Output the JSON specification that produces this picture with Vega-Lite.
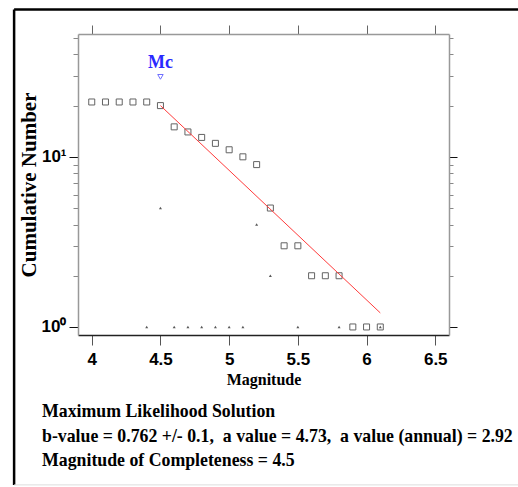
{
  "$schema": "https://vega.github.io/schema/vega-lite/v6.json",
  "width": 371,
  "height": 301,
  "autosize": "none",
  "padding": {"left": 78, "top": 34, "right": 69, "bottom": 152},
  "background": "white",
  "config": {"view": {"stroke": null}},
  "title": {
    "text": ["Maximum Likelihood Solution", "b-value = 0.762 +/- 0.1,\u00a0 a value = 4.73,\u00a0 a value (annual) = 2.92", "Magnitude of Completeness = 4.5"],
    "orient": "bottom",
    "anchor": "start",
    "frame": "group",
    "dx": -36,
    "offset": -83,
    "font": "Liberation Serif",
    "fontSize": 17.8,
    "fontWeight": "bold",
    "color": "black",
    "lineHeight": 24.5,
    "baseline": "top"
  },
  "datasets": {
    "cum": [
      {"m": 4.0, "n": 21}, {"m": 4.1, "n": 21}, {"m": 4.2, "n": 21}, {"m": 4.3, "n": 21}, {"m": 4.4, "n": 21},
      {"m": 4.5, "n": 20}, {"m": 4.6, "n": 15}, {"m": 4.7, "n": 14}, {"m": 4.8, "n": 13}, {"m": 4.9, "n": 12},
      {"m": 5.0, "n": 11}, {"m": 5.1, "n": 10}, {"m": 5.2, "n": 9}, {"m": 5.3, "n": 5}, {"m": 5.4, "n": 3},
      {"m": 5.5, "n": 3}, {"m": 5.6, "n": 2}, {"m": 5.7, "n": 2}, {"m": 5.8, "n": 2}, {"m": 5.9, "n": 1},
      {"m": 6.0, "n": 1}, {"m": 6.1, "n": 1}
    ],
    "noncum": [
      {"m": 4.4, "n": 1}, {"m": 4.5, "n": 5}, {"m": 4.6, "n": 1}, {"m": 4.7, "n": 1}, {"m": 4.8, "n": 1},
      {"m": 4.9, "n": 1}, {"m": 5.0, "n": 1}, {"m": 5.1, "n": 1}, {"m": 5.2, "n": 4}, {"m": 5.3, "n": 2},
      {"m": 5.5, "n": 1}, {"m": 5.8, "n": 1}, {"m": 6.1, "n": 1}
    ],
    "fit": [
      {"m": 4.5, "n": 20.0}, {"m": 6.1, "n": 1.21}
    ],
    "mc": [
      {"m": 4.5, "n": 29.5, "label": "Mc", "ln": 35.8}
    ]
  },
  "layer": [
    {
      "data": {"values": [{}]},
      "mark": {"type": "rule", "color": "black", "strokeWidth": 2.5},
      "encoding": {
        "x": {"datum": 3.435, "type": "quantitative", "scale": {"domain": [3.9, 6.6], "nice": false, "zero": false}, "axis": null},
        "x2": {"datum": 7.2},
        "y": {"datum": 73.5, "type": "quantitative", "scale": {"type": "log", "domain": [0.897, 52.7], "nice": false}, "axis": null}
      }
    },
    {
      "data": {"values": [{}]},
      "mark": {"type": "rule", "color": "black", "strokeWidth": 2.5},
      "encoding": {
        "x": {"datum": 3.435, "type": "quantitative", "axis": null},
        "y": {"datum": 73.5, "type": "quantitative", "axis": null},
        "y2": {"datum": 0.118}
      }
    },
    {
      "data": {"values": [{}]},
      "mark": {"type": "rule", "color": "#dddddd", "strokeWidth": 1},
      "encoding": {
        "x": {"datum": 3.435, "type": "quantitative", "axis": null},
        "x2": {"datum": 7.2},
        "y": {"datum": 0.118, "type": "quantitative", "axis": null}
      }
    },
    {
      "data": {"name": "cum"},
      "mark": {"type": "point", "shape": "square", "filled": false, "stroke": "#222222", "strokeWidth": 1, "size": 36},
      "encoding": {
        "x": {
          "field": "m", "type": "quantitative",
          "axis": {
            "orient": "bottom", "values": [4, 4.5, 5, 5.5, 6, 6.5], "format": "~g", "title": "Magnitude",
            "titleFont": "Liberation Serif", "titleFontSize": 16, "titleFontWeight": "bold", "titleColor": "black", "titlePadding": 4,
            "labelFont": "Liberation Sans Narrow, Arial Narrow, Liberation Sans", "labelFontSize": 17, "labelFontWeight": "bold", "labelColor": "black",
            "labelPadding": 6, "tickSize": 10, "tickColor": "#555555", "domainColor": "#222222", "domainWidth": 1.5, "grid": false
          }
        },
        "y": {
          "field": "n", "type": "quantitative",
          "axis": {
            "orient": "left", "values": [1, 2, 3, 4, 5, 6, 7, 8, 9, 10, 20, 30, 40, 50],
            "labelExpr": "datum.value == 1 ? '10⁰' : (datum.value == 10 ? '10¹' : '')",
            "title": "Cumulative Number", "titleFont": "Liberation Serif", "titleFontSize": 21, "titleFontWeight": "bold", "titleColor": "black", "titlePadding": 2,
            "labelFont": "Liberation Sans Narrow, Arial Narrow, Liberation Sans", "labelFontSize": 17, "labelFontWeight": "bold", "labelColor": "black",
            "labelPadding": 3,
            "tickSize": {"condition": {"test": "datum.value == 1 || datum.value == 10", "value": 9}, "value": 5},
            "tickColor": {"condition": {"test": "datum.value == 1 || datum.value == 10", "value": "#111111"}, "value": "#888888"},
            "domainColor": "#999999", "domainWidth": 1.5, "grid": false
          }
        }
      }
    },
    {
      "data": {"name": "noncum"},
      "mark": {"type": "point", "shape": "triangle-up", "filled": true, "color": "#111111", "size": 9},
      "encoding": {
        "x": {
          "field": "m", "type": "quantitative",
          "axis": {"orient": "top", "values": [4, 4.5, 5, 5.5, 6, 6.5], "labels": false, "title": null, "tickSize": 9, "tickColor": "#666666", "domainColor": "#999999", "domainWidth": 1.5, "grid": false}
        },
        "y": {
          "field": "n", "type": "quantitative",
          "axis": {
            "orient": "right", "values": [1, 2, 3, 4, 5, 6, 7, 8, 9, 10, 20, 30, 40, 50], "labels": false, "title": null,
            "tickSize": {"condition": {"test": "datum.value == 1 || datum.value == 10", "value": 8}, "value": 4},
            "tickColor": {"condition": {"test": "datum.value == 1 || datum.value == 10", "value": "#111111"}, "value": "#888888"},
            "domainColor": "#999999", "domainWidth": 1.5, "grid": false
          }
        }
      }
    },
    {
      "data": {"name": "fit"},
      "mark": {"type": "line", "color": "#ff3b3b", "strokeWidth": 1},
      "encoding": {
        "x": {"field": "m", "type": "quantitative", "axis": null},
        "y": {"field": "n", "type": "quantitative", "axis": null}
      }
    },
    {
      "data": {"name": "mc"},
      "mark": {"type": "point", "shape": "triangle-down", "filled": false, "stroke": "#3333ff", "strokeWidth": 1, "size": 30},
      "encoding": {
        "x": {"field": "m", "type": "quantitative", "axis": null},
        "y": {"field": "n", "type": "quantitative", "axis": null}
      }
    },
    {
      "data": {"name": "mc"},
      "mark": {"type": "text", "color": "#2a2aff", "font": "Liberation Serif", "fontSize": 18, "fontWeight": "bold", "baseline": "middle", "align": "center"},
      "encoding": {
        "x": {"field": "m", "type": "quantitative", "axis": null},
        "y": {"field": "ln", "type": "quantitative", "axis": null},
        "text": {"field": "label"}
      }
    }
  ],
  "resolve": {"axis": {"x": "independent", "y": "independent"}}
}
